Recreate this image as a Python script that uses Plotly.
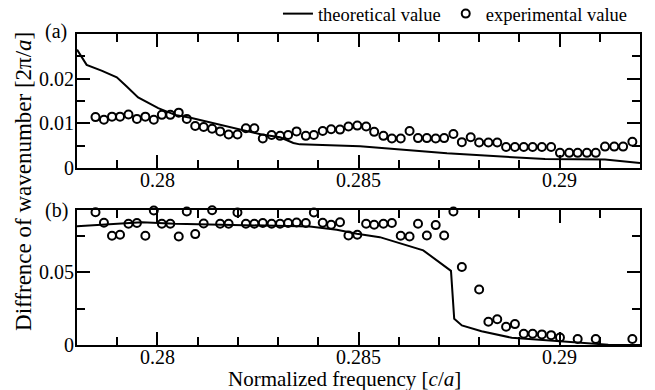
import plotly.graph_objects as go

# ---- data ----
freq_exp_a = [0.27846, 0.27867, 0.27887, 0.27907, 0.27928, 0.27949, 0.27970, 0.27991, 0.28011, 0.28032,
              0.28053, 0.28073, 0.28094, 0.28115, 0.28136, 0.28156, 0.28177, 0.28199, 0.28220, 0.28241,
              0.28262, 0.28284, 0.28305, 0.28325, 0.28346, 0.28369, 0.28389, 0.28411, 0.28432, 0.28454,
              0.28475, 0.28497, 0.28519, 0.28539, 0.28562, 0.28583, 0.28605, 0.28627, 0.28648, 0.28670,
              0.28692, 0.28713, 0.28736, 0.28757, 0.28779, 0.28800, 0.28823, 0.28845, 0.28867, 0.28889,
              0.28911, 0.28933, 0.28956, 0.28979, 0.29001, 0.29024, 0.29045, 0.29068, 0.29090, 0.29113,
              0.29136, 0.29158, 0.29181]
diff_exp_a = [0.0114, 0.0108, 0.0115, 0.0115, 0.0120, 0.0110, 0.0115, 0.0108, 0.0119, 0.0119,
              0.0124, 0.0110, 0.0094, 0.0092, 0.0088, 0.0082, 0.0075, 0.0075, 0.0089, 0.0089,
              0.0066, 0.0074, 0.0072, 0.0074, 0.0082, 0.0072, 0.0074, 0.0083, 0.0087, 0.0086,
              0.0093, 0.0095, 0.0093, 0.0081, 0.0072, 0.0066, 0.0066, 0.0083, 0.0067, 0.0067,
              0.0066, 0.0067, 0.0076, 0.0058, 0.0069, 0.0057, 0.0057, 0.0057, 0.0047, 0.0047,
              0.0047, 0.0047, 0.0047, 0.0047, 0.0034, 0.0034, 0.0034, 0.0034, 0.0034, 0.0048,
              0.0048, 0.0048, 0.0059]

freq_theory_a = [0.2780, 0.27824, 0.27861, 0.27899, 0.27923, 0.27952, 0.28002, 0.28044, 0.28085, 0.28201,
                 0.28259, 0.28305, 0.28338, 0.28354, 0.28504, 0.28720, 0.28964, 0.29113, 0.2920]
diff_theory_a = [0.0265, 0.0231, 0.0218, 0.0203, 0.0183, 0.0158, 0.0134, 0.0119, 0.0112, 0.0088,
                 0.0075, 0.0069, 0.0056, 0.0053, 0.0049, 0.0033, 0.0020, 0.0019, 0.0011]

freq_exp_b = [0.27846, 0.27867, 0.27887, 0.27907, 0.27928, 0.27949, 0.27970, 0.27991, 0.28011, 0.28032,
              0.28053, 0.28073, 0.28094, 0.28115, 0.28136, 0.28156, 0.28177, 0.28199, 0.28220, 0.28241,
              0.28262, 0.28284, 0.28305, 0.28325, 0.28346, 0.28369, 0.28389, 0.28411, 0.28432, 0.28454,
              0.28475, 0.28497, 0.28519, 0.28539, 0.28562, 0.28583, 0.28605, 0.28627, 0.28648, 0.28670,
              0.28692, 0.28713, 0.28736, 0.28757, 0.28800, 0.28823, 0.28845, 0.28867, 0.28889, 0.28911,
              0.28933, 0.28956, 0.28979, 0.29001, 0.29045, 0.29090, 0.29181]
diff_exp_b = [0.0915, 0.0842, 0.0753, 0.0760, 0.0835, 0.0840, 0.0753, 0.0927, 0.0835, 0.0835,
              0.0748, 0.0920, 0.0764, 0.0837, 0.0929, 0.0835, 0.0835, 0.0913, 0.0835, 0.0835,
              0.0840, 0.0835, 0.0835, 0.0840, 0.0844, 0.0840, 0.0913, 0.0842, 0.0828, 0.0846,
              0.0755, 0.0760, 0.0835, 0.0828, 0.0835, 0.0840, 0.0753, 0.0748, 0.0835, 0.0755,
              0.0826, 0.0755, 0.0920, 0.0537, 0.0383, 0.0160, 0.0178, 0.0126, 0.0144, 0.0078,
              0.0078, 0.0073, 0.0068, 0.0052, 0.0041, 0.0041, 0.0041]

freq_theory_b = [0.2780, 0.27878, 0.27961, 0.28044, 0.28126, 0.28267, 0.28379, 0.28446, 0.28496, 0.28553,
                 0.28661, 0.28730, 0.28738, 0.28757, 0.28806, 0.28881, 0.28964, 0.29047, 0.29121, 0.2920]
diff_theory_b = [0.0819, 0.0831, 0.0846, 0.0835, 0.0831, 0.0824, 0.0817, 0.0794, 0.0767, 0.0743,
                 0.0652, 0.0511, 0.0181, 0.0135, 0.0095, 0.0050, 0.0032, 0.0015, 0.0002, 0.0000]

x_tickvals = [0.28, 0.285, 0.29]
x_ticktext = ["0.28", "0.285", "0.29"]
ya_tickvals = [0, 0.01, 0.02]
ya_ticktext = ["0", "0.01", "0.02"]
yb_tickvals = [0, 0.05]
yb_ticktext = ["0", "0.05"]

FONT = "'Liberation Serif', 'Times New Roman', 'DejaVu Serif', serif"

line_style = dict(color="black", width=2)
marker_style = dict(symbol="circle-open", size=8, color="black", line=dict(width=2, color="black"))

fig = go.Figure()
fig.add_trace(go.Scatter(x=freq_theory_a, y=diff_theory_a, mode="lines", line=line_style,
                         name="theoretical value", xaxis="x", yaxis="y"))
fig.add_trace(go.Scatter(x=freq_exp_a, y=diff_exp_a, mode="markers", marker=marker_style,
                         name="experimental value", xaxis="x", yaxis="y", cliponaxis=False))
fig.add_trace(go.Scatter(x=freq_theory_b, y=diff_theory_b, mode="lines", line=line_style,
                         showlegend=False, xaxis="x2", yaxis="y2"))
fig.add_trace(go.Scatter(x=freq_exp_b, y=diff_exp_b, mode="markers", marker=marker_style,
                         showlegend=False, xaxis="x2", yaxis="y2", cliponaxis=False))

common = dict(showline=True, linewidth=2, linecolor="black", mirror="ticks",
              ticks="inside", ticklen=13, tickwidth=2, tickcolor="black",
              showgrid=False, zeroline=False,
              tickfont=dict(family=FONT, size=20, color="black"))

xminor = dict(tickmode="linear", tick0=0.278, dtick=0.001, ticks="inside",
              ticklen=8, tickwidth=2, tickcolor="black", showgrid=False)
xcommon = dict(common, range=[0.278, 0.292], tickmode="array",
               tickvals=x_tickvals, ticktext=x_ticktext, minor=xminor)

fig.update_layout(
    width=655, height=390,
    margin=dict(l=77, r=15, t=34, b=45, autoexpand=False),
    paper_bgcolor="white", plot_bgcolor="white",
    hovermode=False,
    font=dict(family=FONT, color="black"),
    xaxis=dict(xcommon, anchor="y", ticklabelstandoff=-7),
    xaxis2=dict(xcommon, anchor="y2", ticklabelstandoff=-7),
    yaxis=dict(common, domain=[0.569, 1.0], range=[0, 0.03], anchor="x",
               tickmode="array", tickvals=ya_tickvals, ticktext=ya_ticktext,
               ticklabelstandoff=-3,
               minor=dict(tickmode="linear", tick0=0, dtick=0.005, ticks="inside",
                          ticklen=8, tickwidth=2, tickcolor="black", showgrid=False)),
    yaxis2=dict(common, domain=[0.0, 0.434], range=[0, 0.093], anchor="x2",
                tickmode="array", tickvals=yb_tickvals, ticktext=yb_ticktext,
                ticklabelstandoff=-3,
                minor=dict(tickmode="linear", tick0=0, dtick=0.025, ticks="inside",
                           ticklen=8, tickwidth=2, tickcolor="black", showgrid=False)),
    legend=dict(orientation="h", x=0.9875, xanchor="right", y=1.064, yanchor="middle",
                font=dict(family=FONT, size=18.5, color="black"), bgcolor="rgba(0,0,0,0)",
                itemwidth=30),
    annotations=[
        dict(text="(a)", x=-0.0373, y=1.0096, xref="paper", yref="paper", showarrow=False,
             xanchor="center", yanchor="middle", font=dict(family=FONT, size=20)),
        dict(text="(b)", x=-0.0373, y=0.431, xref="paper", yref="paper", showarrow=False,
             xanchor="center", yanchor="middle", font=dict(family=FONT, size=20)),
        dict(text="Normalized frequency [<i>c</i>/<i>a</i>]", x=0.475, y=-0.109,
             xref="paper", yref="paper", showarrow=False, xanchor="center", yanchor="middle",
             font=dict(family=FONT, size=21)),
        dict(text="Diffrence of wavenumber [2π/<i>a</i>]", x=-0.095, y=0.526, textangle=-90,
             xref="paper", yref="paper", showarrow=False, xanchor="center", yanchor="middle",
             font=dict(family=FONT, size=23)),
    ],
)

# remove the browser's default 8px body margin so the figure fills the window exactly
fig.write_html("out.html", config={"displayModeBar": False, "staticPlot": True},
               post_script="document.body.style.margin='0';")
